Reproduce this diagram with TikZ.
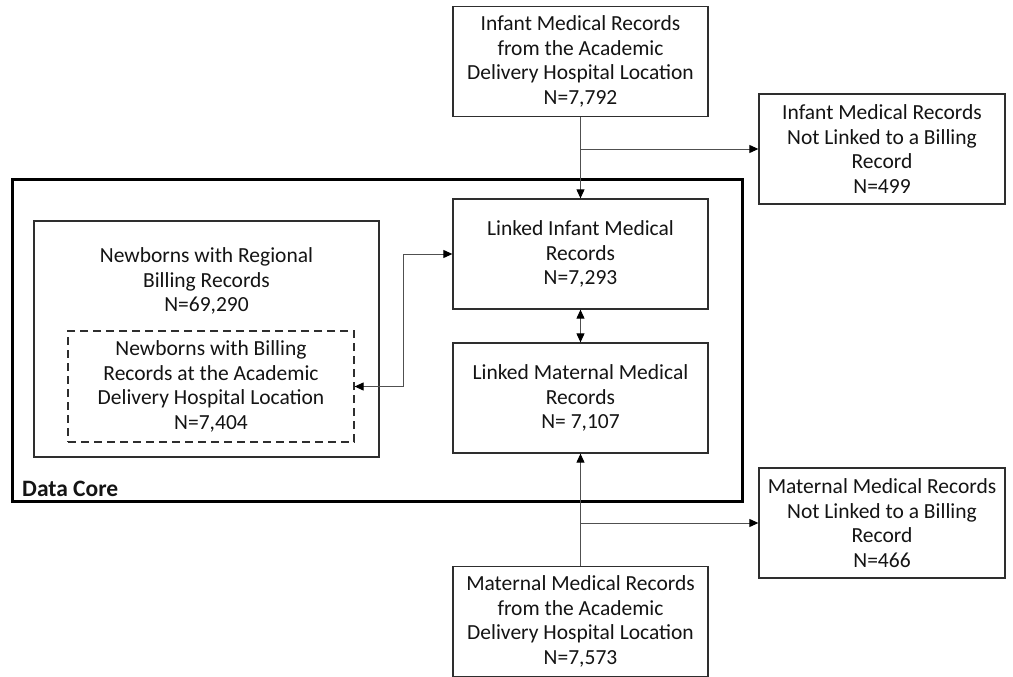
\documentclass[tikz,border=0pt]{standalone}
\usepackage{fontspec}
\setmainfont{Carlito}
\usetikzlibrary{arrows.meta}
\definecolor{ink}{HTML}{141414}
\definecolor{edge}{HTML}{2E2E2E}
\definecolor{wire}{HTML}{505050}
\tikzset{
  box/.style={draw=edge, line width=1.3pt, fill=white, inner sep=0pt, align=center,
    text=ink, font=\fontsize{21.5}{24.5}\selectfont},
  colbox/.style={box, minimum width=255pt, minimum height=110pt},
  sidebox/.style={box, minimum width=246pt, minimum height=110pt},
  txt/.style={inner sep=0pt, align=center, text=ink, font=\fontsize{21.5}{24.5}\selectfont},
  conn/.style={draw=wire, line width=1pt, -{Triangle[length=9pt,width=8pt,color=black]}},
  dconn/.style={draw=wire, line width=1pt, {Triangle[length=9pt,width=8pt,color=black]}-{Triangle[length=9pt,width=8pt,color=black]}},
  corebox/.style={draw=black, line width=3pt},
}
\begin{document}
\begin{tikzpicture}[x=1pt,y=-1pt]
\useasboundingbox (0,0) rectangle (1013,677);
% Data core frame
\draw[corebox] (12,179) rectangle (742,501);
\node[anchor=base west, inner sep=0pt, text=ink, font=\fontsize{23.5}{24.5}\selectfont\bfseries] (corelabel) at (22,496) {Data Core};

% central column
\node[colbox] (top) at (580.5,61.5) {Infant Medical Records\\from the Academic\\Delivery Hospital Location\\N=7,792};
\node[colbox] (li) at (580.5,254) {Linked Infant Medical\\Records\\N=7,293};
\node[colbox] (lm) at (580.5,398) {Linked Maternal Medical\\Records\\N= 7,107};
\node[colbox] (bot) at (580.5,621.5) {Maternal Medical Records\\from the Academic\\Delivery Hospital Location\\N=7,573};

% side boxes
\node[sidebox] (rt) at (882,149) {Infant Medical Records\\Not Linked to a Billing\\Record\\N=499};
\node[sidebox] (rb) at (882,523) {Maternal Medical Records\\Not Linked to a Billing\\Record\\N=466};

% newborn boxes
\node[box, minimum width=345pt, minimum height=236pt] (nb) at (206.5,339) {};
\node[txt] (nbt) at (206.5,281) {Newborns with Regional\\Billing Records\\N=69,290};
\node[box, dashed, dash pattern=on 8pt off 5pt, line width=1.2pt, minimum width=286pt, minimum height=111pt] (dash) at (211,386.5) {Newborns with Billing\\Records at the Academic\\Delivery Hospital Location\\N=7,404};

% connectors
\coordinate (b1) at (580.5,149);
\coordinate (b2) at (580.5,523);
\draw[conn] (top.south) -- (li.north);
\draw[conn] (b1) -- (rt.west);
\draw[conn] (bot.north) -- (lm.south);
\draw[conn] (b2) -- (rb.west);
\draw[dconn] (li.south) -- (lm.north);
\draw[dconn] (li.west) -- ++(-49,0) |- (dash.east);
\end{tikzpicture}
\end{document}
